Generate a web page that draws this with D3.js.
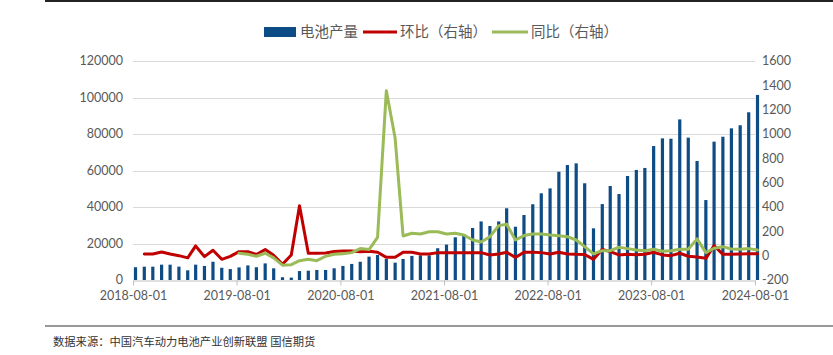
<!DOCTYPE html>
<html><head><meta charset="utf-8">
<script src="https://cdn.jsdelivr.net/npm/d3@7/dist/d3.min.js"></script>
<style>
html,body{margin:0;padding:0;background:#fff;}
svg{display:block;}
</style></head>
<body>
<svg id="chart" width="833" height="355"></svg>
<script>
const months = ["2018-08","2018-09","2018-10","2018-11","2018-12","2019-01","2019-02","2019-03","2019-04","2019-05","2019-06","2019-07",
"2019-08","2019-09","2019-10","2019-11","2019-12","2020-01","2020-02","2020-03","2020-04","2020-05","2020-06","2020-07",
"2020-08","2020-09","2020-10","2020-11","2020-12","2021-01","2021-02","2021-03","2021-04","2021-05","2021-06","2021-07",
"2021-08","2021-09","2021-10","2021-11","2021-12","2022-01","2022-02","2022-03","2022-04","2022-05","2022-06","2022-07",
"2022-08","2022-09","2022-10","2022-11","2022-12","2023-01","2023-02","2023-03","2023-04","2023-05","2023-06","2023-07",
"2023-08","2023-09","2023-10","2023-11","2023-12","2024-01","2024-02","2024-03","2024-04","2024-05","2024-06","2024-07","2024-08"];

const production = [7000,7300,7300,8400,8400,7300,5300,8400,7700,10000,6700,6000,
6900,8000,7000,9100,6400,1500,1300,4900,5100,5500,5500,6400,
7700,8800,10000,12800,13700,11500,9500,11500,13200,13500,13500,17400,
19400,23400,25200,28500,32100,29600,32100,39300,29200,35600,41500,47500,
50200,59300,63000,63900,53000,28300,41600,51500,47100,57000,60300,61400,
73400,77600,77400,88000,78000,65200,43800,75800,78500,83100,84800,91900,101400];

const mom = [null,14,14,30,14,0,-18,80,-8,45,-30,-6,
33,33,10,50,3,-70,5,410,20,20,22,35,
38,38,33,36,28,-14,-13,28,28,14,14,25,
25,25,25,25,25,5,14,28,-15,28,28,25,
14,28,14,11,10,-30,52,33,6,11,8,11,
28,6,0,20,-5,-11,-22,82,11,11,13,15,15];

const yoy = [null,null,null,null,null,null,null,null,null,null,null,null,
20,11,-5,20,-18,-78,-74,-41,-30,-41,-5,11,
16,25,58,50,150,1356,965,162,184,178,197,197,
178,184,170,129,113,156,247,258,129,165,178,178,
170,164,156,129,74,14,41,41,69,58,47,41,
53,36,41,53,53,138,25,61,74,55,53,58,47];

const leftTicks = [0,20000,40000,60000,80000,100000,120000];
const rightTicks = [-200,0,200,400,600,800,1000,1200,1400,1600];
const xTickLabels = ["2018-08-01","2019-08-01","2020-08-01","2021-08-01","2022-08-01","2023-08-01","2024-08-01"];
const legendLabels = ["电池产量","环比（右轴）","同比（右轴）"];
const sourceText = "数据来源：中国汽车动力电池产业创新联盟 国信期货";

const C_BAR = "#0E4C86", C_RED = "#C00000", C_GREEN = "#9BBB59", C_TXT = "#595959";
const svg = d3.select("#chart");
const parse = d3.timeParse("%Y-%m");
const parseDay = d3.timeParse("%Y-%m-%d");
const dates = months.map(parse);

const x = d3.scaleTime().domain([parseDay("2018-08-01"), parseDay("2024-08-01")]).range([133, 755]);
const yL = d3.scaleLinear().domain([0, 120000]).range([280, 61]);
const yR = d3.scaleLinear().domain([-200, 1600]).range([280, 61]);
const off = 2.5;
const cx = i => x(dates[i]) + off;

// top & bottom rule lines
svg.append("line").attr("x1",45).attr("x2",833).attr("y1",1).attr("y2",1).attr("stroke","#222").attr("stroke-width",2);
svg.append("line").attr("x1",45).attr("x2",833).attr("y1",326).attr("y2",326).attr("stroke","#333").attr("stroke-width",1.2);

// gridlines
svg.append("g").selectAll("line").data(leftTicks.slice(1)).join("line")
  .attr("x1",133).attr("x2",755).attr("y1",d=>Math.round(yL(d))+0.5).attr("y2",d=>Math.round(yL(d))+0.5)
  .attr("stroke","#d9d9d9").attr("stroke-width",1);

// left axis labels
svg.append("g").selectAll("text").data(leftTicks).join("text")
  .attr("x",123).attr("y",d=>yL(d)).attr("dy","0.35em").attr("text-anchor","end")
  .attr("font-family","Lato, 'Liberation Sans', sans-serif").attr("font-size",12.5).attr("fill",C_TXT)
  .text(d=>d);
// right axis labels
svg.append("g").selectAll("text").data(rightTicks).join("text")
  .attr("x",762).attr("y",d=>yR(d)).attr("dy","0.35em").attr("text-anchor","start")
  .attr("font-family","Lato, 'Liberation Sans', sans-serif").attr("font-size",12.5).attr("fill",C_TXT)
  .text(d=>d);

// bars
svg.append("g").selectAll("rect").data(production).join("rect")
  .attr("x",(d,i)=>cx(i)-1.6).attr("width",3.2)
  .attr("y",d=>yL(d)).attr("height",d=>yL(0)-yL(d))
  .attr("fill",C_BAR);

// x axis
const xAxis = d3.axisBottom(x)
  .tickValues(xTickLabels.map(parseDay))
  .tickSize(5).tickSizeOuter(0)
  .tickFormat((d,i)=>xTickLabels[i]);
const gx = svg.append("g").attr("transform","translate(0,280.5)").call(xAxis);
gx.select(".domain").attr("stroke","#bfbfbf");
gx.selectAll(".tick line").attr("stroke","#bfbfbf");
gx.selectAll(".tick text").attr("font-family","Lato, 'Liberation Sans', sans-serif").attr("font-size",12.5)
  .attr("fill",C_TXT).attr("dy","0.95em").attr("y",8);

// lines
const lineGen = d3.line().defined(d=>d.v!==null).x(d=>cx(d.i)).y(d=>yR(d.v)).curve(d3.curveLinear);
svg.append("path").datum(mom.map((v,i)=>({v,i})))
  .attr("d",lineGen).attr("fill","none").attr("stroke",C_RED).attr("stroke-width",3)
  .attr("stroke-linejoin","round").attr("stroke-linecap","round");
svg.append("path").datum(yoy.map((v,i)=>({v,i})))
  .attr("d",lineGen).attr("fill","none").attr("stroke",C_GREEN).attr("stroke-width",3)
  .attr("stroke-linejoin","round").attr("stroke-linecap","round");

// legend
const lg = svg.append("g").attr("font-family","'Noto Sans CJK SC', sans-serif").attr("font-size",14.5).attr("fill",C_TXT);
lg.append("rect").attr("x",264).attr("y",27).attr("width",32).attr("height",10).attr("fill",C_BAR);
lg.append("text").attr("x",300).attr("y",32).attr("dy","0.35em").text(legendLabels[0]);
lg.append("line").attr("x1",363).attr("x2",397).attr("y1",32).attr("y2",32).attr("stroke",C_RED).attr("stroke-width",3);
lg.append("text").attr("x",400).attr("y",32).attr("dy","0.35em").text(legendLabels[1]);
lg.append("line").attr("x1",492).attr("x2",528).attr("y1",32).attr("y2",32).attr("stroke",C_GREEN).attr("stroke-width",3);
lg.append("text").attr("x",531).attr("y",32).attr("dy","0.35em").text(legendLabels[2]);

// source
svg.append("text").attr("x",53).attr("y",342).attr("dy","0.35em")
  .attr("font-family","'Noto Sans CJK SC', sans-serif").attr("font-size",11.3).attr("fill","#333")
  .text(sourceText);
</script>
</body></html>
